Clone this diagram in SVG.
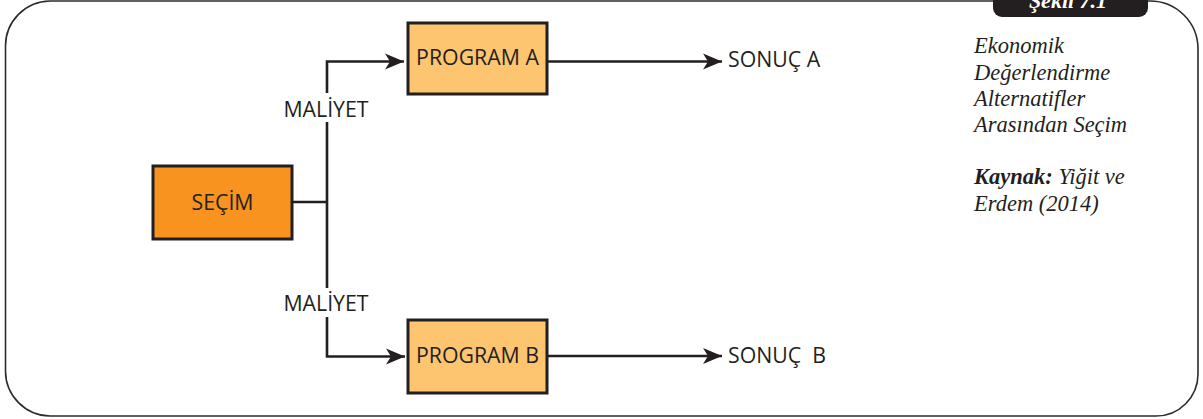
<svg xmlns="http://www.w3.org/2000/svg" width="1203" height="419" viewBox="0 0 1203 419">
  <style>
    .frame { fill: none; stroke: #2b2b2b; stroke-width: 1.6; }
    .box { stroke: #231f20; stroke-width: 3; }
    .light { fill: #fec570; }
    .dark { fill: #f7931e; }
    .lbl { font-family: "Open Sans", "Liberation Sans", sans-serif; font-size: 21.3px; fill: #231f20; }
    .wire { fill: none; stroke: #231f20; stroke-width: 2.6; }
    .note { font-family: "Liberation Serif", serif; font-style: italic; font-size: 22.5px; fill: #231f20; }
  </style>
  <defs>
    <marker id="arrow" markerUnits="userSpaceOnUse" markerWidth="24" markerHeight="20" viewBox="-22 -10 24 20" refX="0" refY="0" orient="auto">
      <path d="M0,0 L-19,-8 L-14,0 L-19,8 Z" fill="#231f20"/>
    </marker>
  </defs>

  <!-- outer frame -->
  <path class="frame" d="M50,1 H1150 A48,48 0 0 1 1198,49 V374 A42,42 0 0 1 1156,416 H50 A45,45 0 0 1 5.5,371 V46 A45,45 0 0 1 50,1 Z"/>

  <!-- figure tab -->
  <g id="tab">
    <rect x="993" y="-20" width="155" height="37" rx="9" fill="#231f20"/>
    <text x="1068" y="8" text-anchor="middle" font-family="Liberation Serif, serif" font-style="italic" font-weight="bold" font-size="22" fill="#ffffff">Şekil 7.1</text>
  </g>

  <!-- connectors -->
  <g id="connectors">
    <path class="wire" d="M292,202 H327"/>
    <path class="wire" d="M327,202 V122 M327,93 V61.5 H404" marker-end="url(#arrow)"/>
    <path class="wire" d="M327,202 V288 M327,317 V356.5 H405" marker-end="url(#arrow)"/>
    <path class="wire" d="M547,61.5 H722" marker-end="url(#arrow)"/>
    <path class="wire" d="M547,356 H722" marker-end="url(#arrow)"/>
    <text class="lbl" x="326" y="117" text-anchor="middle">MALİYET</text>
    <text class="lbl" x="326" y="311" text-anchor="middle">MALİYET</text>
  </g>

  <g id="secim">
    <rect class="box dark" x="153" y="166" width="139" height="73"/>
    <text class="lbl" x="222.5" y="210" text-anchor="middle">SEÇİM</text>
  </g>

  <g id="program-a">
    <rect class="box light" x="408" y="23" width="139" height="71"/>
    <text class="lbl" x="477.5" y="65" text-anchor="middle">PROGRAM A</text>
  </g>

  <g id="program-b">
    <rect class="box light" x="408" y="320" width="139" height="73"/>
    <text class="lbl" x="477.5" y="363" text-anchor="middle">PROGRAM B</text>
  </g>

  <g id="sonuc-a">
    <text class="lbl" x="728" y="67">SONUÇ A</text>
  </g>

  <g id="sonuc-b">
    <text class="lbl" x="728" y="363" style="white-space: pre">SONUÇ  B</text>
  </g>

  <!-- caption -->
  <g id="caption" class="note">
    <text x="974" y="53">Ekonomik</text>
    <text x="974" y="80">Değerlendirme</text>
    <text x="974" y="106">Alternatifler</text>
    <text x="974" y="132">Arasından Seçim</text>
    <text x="974" y="184"><tspan font-weight="bold">Kaynak:</tspan> Yiğit ve</text>
    <text x="974" y="211">Erdem (2014)</text>
  </g>
</svg>
